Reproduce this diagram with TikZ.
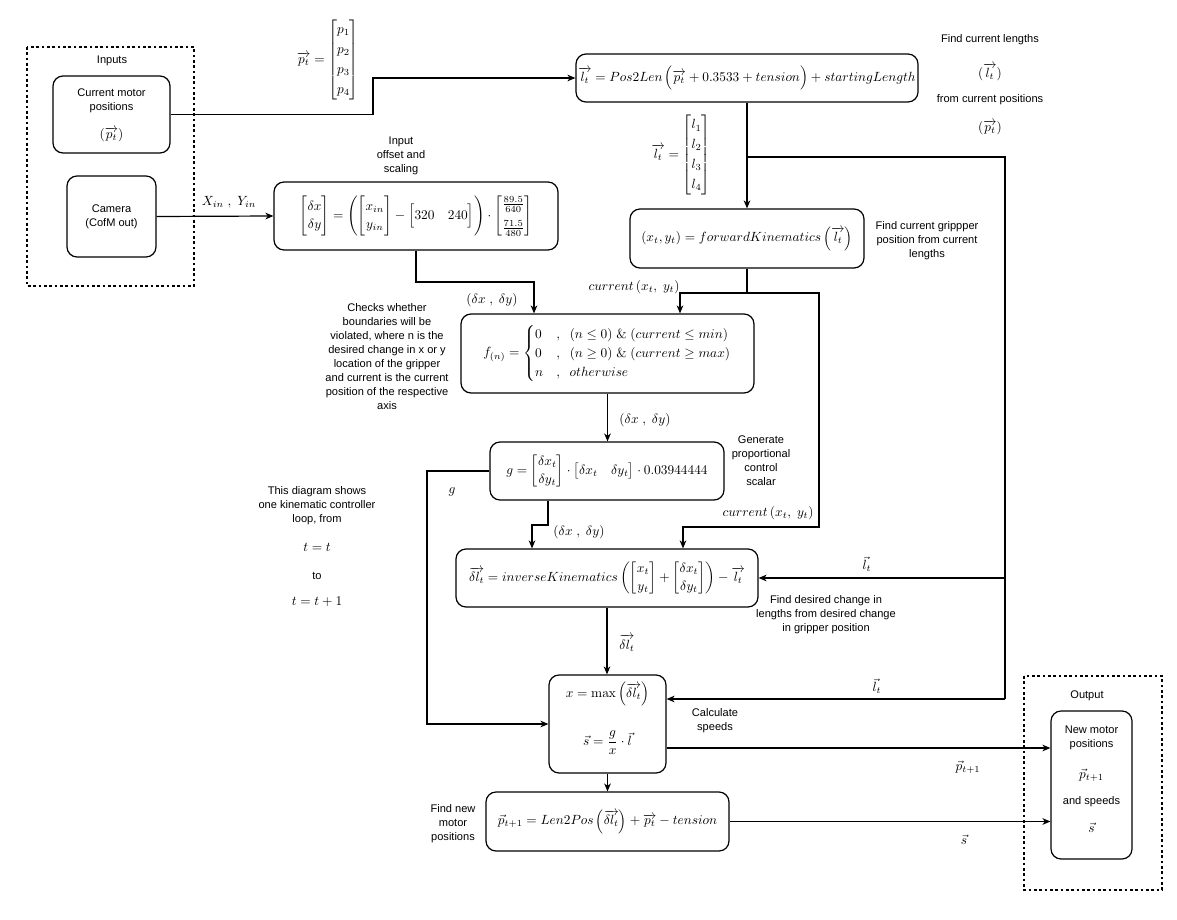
\documentclass[tikz,border=0pt]{standalone}
\usepackage{amsmath}
\usepackage[no-math]{fontspec}
\setmainfont{Liberation Sans}
\usetikzlibrary{arrows.meta,calc}
\tikzset{
 box/.style={draw, rounded corners=7.5pt, line width=0.9pt, inner sep=0pt, font=\fontsize{10}{12}\selectfont},
 lbl/.style={font=\fontsize{8.3}{10.5}\selectfont, align=center, inner sep=0pt},
 mlbl/.style={font=\fontsize{10}{12}\selectfont, inner sep=0pt},
 conn/.style={line width=0.9pt},
 arr/.style={conn, -{Stealth[length=6pt,width=5pt,inset=1.8pt]}},
 dbox/.style={draw, line width=0.9pt, dash pattern=on 2pt off 2pt},
}
\begin{document}
\begin{tikzpicture}[x=0.75pt,y=-0.75pt]
\useasboundingbox (0,0) rectangle (1177,920);

% dashed groups
\draw[dbox] (27,47) rectangle (194,286);
\draw[dbox] (1024,676) rectangle (1162,890);
\node[lbl] (inputs) at (112,61) {Inputs};
\node[lbl] (output) at (1087,696) {Output};

% boxes
\node[box, minimum width=87.75pt, minimum height=57.75pt] (motor) at (111.5,114.5) {};
\node[lbl] (motort) at (111.5,101) {Current motor\\positions};
\node[mlbl] (motorp) at (111.5,135) {$(\overrightarrow{p_t})$};

\node[box, minimum width=66.75pt, minimum height=60.75pt, lbl] (camera) at (111.5,216.5) {Camera\\(CofM out)};

\node[box, minimum width=213pt, minimum height=51pt] (offset) at (416,216)
 {\renewcommand{\arraystretch}{1.15}$\begin{bmatrix}\delta x\\ \delta y\end{bmatrix} = \left(\begin{bmatrix}x_{in}\\ y_{in}\end{bmatrix} - \begin{bmatrix}320 & 240\end{bmatrix}\right)\cdot\begin{bmatrix}\frac{89.5}{640}\\[4pt] \frac{71.5}{480}\end{bmatrix}$};

\node[box, minimum width=256.5pt, minimum height=36pt] (pos2len) at (747,78)
 {$\overrightarrow{l_t} = Pos2Len\left(\overrightarrow{p_t} + 0.3533 + tension\vphantom{\Big(}\right) + startingLength$};

\node[box, minimum width=175.5pt, minimum height=44.25pt] (fk) at (747,238.5)
 {$(x_t, y_t) = forwardKinematics\left(\overrightarrow{l_t}\right)$};

\node[box, minimum width=219.75pt, minimum height=59.25pt] (f) at (607.5,353.5)
 {$f_{(n)} = \begin{cases} 0 & ,\ \ (n\le 0)\ \&\ (current \le min)\\ 0 & ,\ \ (n \ge 0)\ \&\ (current\ge max)\\ n & ,\ \ otherwise\end{cases}$};

\node[box, minimum width=175.5pt, minimum height=43.5pt] (g) at (607,471)
 {\renewcommand{\arraystretch}{1.1}$g = \begin{bmatrix}\delta x_t\\ \delta y_t\end{bmatrix}\cdot\begin{bmatrix}\delta x_t & \delta y_t\end{bmatrix}\cdot 0.03944444$};

\node[box, minimum width=226.5pt, minimum height=43.5pt] (ik) at (607,578)
 {\renewcommand{\arraystretch}{1.1}$\overrightarrow{\delta l_t} = inverseKinematics\left(\begin{bmatrix}x_t\\ y_t\end{bmatrix}+\begin{bmatrix}\delta x_t\\ \delta y_t\end{bmatrix}\right) - \overrightarrow{l_t}$};

\node[box, minimum width=87.75pt, minimum height=73.5pt] (max) at (607.5,724) {};
\node[mlbl] (maxa) at (607.5,694) {$x = \max\left(\overrightarrow{\delta l_t}\right)$};
\node[mlbl] (maxb) at (607.5,743) {$\vec{s} = \dfrac{g}{x}\cdot\vec{l}$};

\node[box, minimum width=182.25pt, minimum height=44.25pt] (len2pos) at (607.5,821.5)
 {$\vec{p}_{t+1} = Len2Pos\left(\overrightarrow{\delta l_t}\right) + \overrightarrow{p_t} - tension$};

\node[box, minimum width=60.75pt, minimum height=111pt] (out) at (1091.5,785) {};
\node[lbl] (outa) at (1091.5,738) {New motor\\positions};
\node[mlbl] (outb) at (1091.5,775) {$\vec{p}_{t+1}$};
\node[lbl] (outc) at (1091.5,802) {and speeds};
\node[mlbl] (outd) at (1091.5,828) {$\vec{s}$};

% side texts
\node[lbl] (tinput) at (401,156) {Input\\offset and\\scaling};
\node[lbl] (tfcl) at (990,40) {Find current lengths};
\node[mlbl] (tfcl2) at (990,72) {$(\overrightarrow{l_t})$};
\node[lbl] (tfcl3) at (990,100) {from current positions};
\node[mlbl] (tfcl4) at (990,128) {$(\overrightarrow{p_t})$};
\node[lbl] (tgrip) at (927,241) {Find current grippper\\position from current\\lengths};
\node[lbl] (tcheck) at (387,357) {Checks whether\\boundaries will be\\violated, where n is the\\desired change in x or y\\location of the gripper\\and current is the current\\position of the respective\\axis};
\node[lbl] (tgen) at (761,461) {Generate\\proportional\\control\\scalar};
\node[lbl] (tdiag) at (317,506) {This diagram shows\\one kinematic controller\\loop, from};
\node[mlbl] (tt1) at (317,547) {$t = t$};
\node[lbl] (tto) at (317,576) {to};
\node[mlbl] (tt2) at (317,602) {$t = t + 1$};
\node[lbl] (tdes) at (826,615) {Find desired change in\\lengths from desired change\\in gripper position};
\node[lbl] (tcalc) at (715,721) {Calculate\\speeds};
\node[lbl] (tnew) at (453,824) {Find new\\motor\\positions};

% connector labels
\node[mlbl] (lp) at (328,60) {\renewcommand{\arraystretch}{1.25}$\overrightarrow{p_t} = \begin{bmatrix}p_1\\ p_2\\ p_3\\ p_4\end{bmatrix}$};
\node[mlbl] (ll) at (681,155) {\renewcommand{\arraystretch}{1.25}$\overrightarrow{l_t} = \begin{bmatrix}l_1\\ l_2\\ l_3\\ l_4\end{bmatrix}$};
\node[mlbl] (lxy) at (229,202) {$X_{in}\ ,\ Y_{in}$};
\node[mlbl] (ld1) at (492,300) {$(\delta x\ ,\ \delta y)$};
\node[mlbl] (ld2) at (645,420) {$(\delta x\ ,\ \delta y)$};
\node[mlbl] (ld3) at (579,532) {$(\delta x\ ,\ \delta y)$};
\node[mlbl] (lc1) at (634,287) {$current\,(x_t,\ y_t)$};
\node[mlbl] (lc2) at (768,513) {$current\,(x_t,\ y_t)$};
\node[mlbl] (lg) at (452,492) {$g$};
\node[mlbl] (ldl) at (627,643) {$\overrightarrow{\delta l_t}$};
\node[mlbl] (ll1) at (867,564) {$\vec{l}_t$};
\node[mlbl] (ll2) at (877,686) {$\vec{l}_t$};
\node[mlbl] (lpn) at (968,767) {$\vec{p}_{t+1}$};
\node[mlbl] (ls) at (964,840) {$\vec{s}$};

% connectors
\draw[arr] (motor.east) -- (373,114.5) |- (pos2len.west);
\draw[arr] (camera.east) -- (offset.west);
\coordinate (c1) at (534,282);
\draw[arr] (offset.south) |- (c1) -- (c1 |- f.north);
\draw[arr] (pos2len.south) -- (fk.north);
\coordinate (lb) at (747,157);
\coordinate (lr) at (1005,157);
\coordinate (lbot) at (1005,699);
\draw[conn] (lb) -- (lr) -- (lbot);
\draw[arr] (lr |- ik.east) -- (ik.east);
\draw[arr] (lbot) -- (lbot -| max.east);
\coordinate (fk1) at (747,293);
\coordinate (fx) at (680,0);
\coordinate (fr) at (819,293);
\coordinate (fr2) at (819,527);
\coordinate (ikx) at (683,0);
\draw[arr] (fk.south) -- (fk1) -| (fx |- f.north);
\draw[arr] (fk.south) -- (fk1) -- (fr) -- (fr2) -| (ikx |- ik.north);
\draw[arr] (f.south) -- (f.south |- g.north);
\coordinate (gl) at (427,471);
\draw[arr] (g.west) -- (gl) |- (max.west);
\coordinate (gb) at (548,0);
\coordinate (ga) at (532,525);
\draw[arr] (gb |- g.south) -- (548,525) -- (ga) -- (ga |- ik.north);
\draw[arr] (ik.south) -- (ik.south |- max.north);
\draw[arr] (max.south) -- (max.south |- len2pos.north);
\coordinate (ms) at ($(max.east)+(0,24)$);
\draw[arr] (ms) -- (ms -| out.west);
\draw[arr] (len2pos.east) -- (len2pos.east -| out.west);
\end{tikzpicture}
\end{document}
